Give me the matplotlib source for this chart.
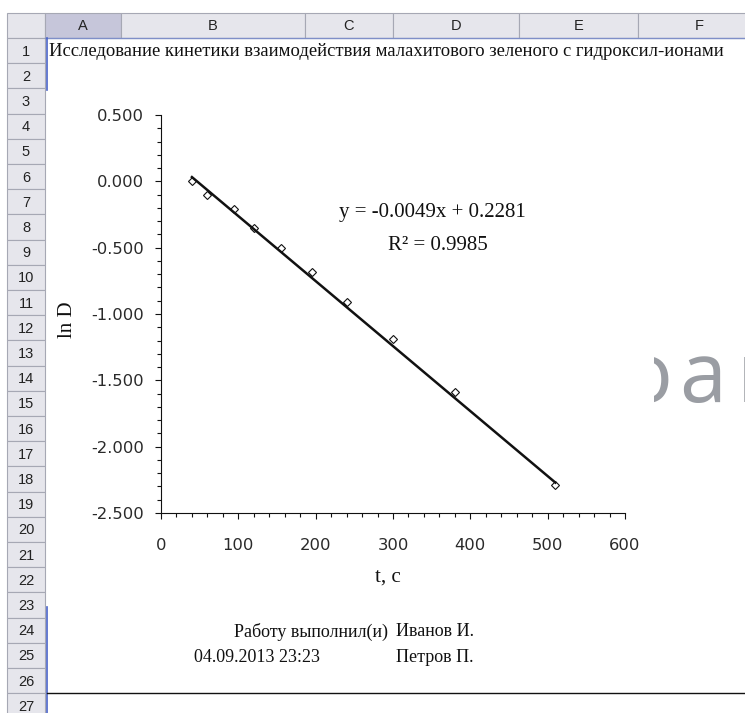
import matplotlib
matplotlib.use("Agg")
import matplotlib.pyplot as plt
from matplotlib.patches import Rectangle
from matplotlib.transforms import Bbox, TransformedBbox
from matplotlib.ticker import MultipleLocator, FormatStrFormatter

# ---- data ----
title = "Исследование кинетики взаимодействия малахитового зеленого с гидроксил-ионами"
t_sec = [40, 60, 95, 120, 155, 195, 240, 300, 380, 510]
ln_d = [0.00, -0.10, -0.21, -0.35, -0.50, -0.68, -0.91, -1.19, -1.59, -2.29]
slope, intercept, r2 = -0.0049, 0.2281, 0.9985
x_label = "t, c"
y_label = "ln D"
signed_by = "Работу выполнил(и)"
authors = ["Иванов И.", "Петров П."]
stamp = "04.09.2013 23:23"
col_names = ["A", "B", "C", "D", "E", "F"]
row_names = [str(i) for i in range(1, 28)]
watermark = ["о", "а", "н"]

# ---- sheet geometry (pixels) ----
W, H = 745, 713
col_edges = [45, 121, 305, 393, 519, 638, 760]
hdr_top, row_top, row_h = 13, 38.0, 25.2
rh_left = 7

SERIF = ["Liberation Serif", "DejaVu Serif"]
SANS = ["Liberation Sans", "DejaVu Sans"]

fig = plt.figure(figsize=(W / 100, H / 100), dpi=100)
fig.patch.set_facecolor("white")

bg = fig.add_axes([0, 0, 1, 1])
bg.set_xlim(0, W)
bg.set_ylim(H, 0)
bg.axis("off")

hdr_fill, hdr_sel, hdr_line = "#E6E6EC", "#C6C6DA", "#A6A8B4"

# column header strip
bg.add_patch(Rectangle((rh_left, hdr_top), col_edges[0] - rh_left, row_top - hdr_top,
                       facecolor=hdr_fill, edgecolor=hdr_line, lw=0.8))
for i, name in enumerate(col_names):
    x0, x1 = col_edges[i], col_edges[i + 1]
    fc = hdr_sel if i == 0 else hdr_fill
    bg.add_patch(Rectangle((x0, hdr_top), x1 - x0, row_top - hdr_top,
                           facecolor=fc, edgecolor=hdr_line, lw=0.8))
    bg.text((x0 + x1) / 2, (hdr_top + row_top) / 2 + 1, name, ha="center", va="center",
            family=SANS, fontsize=10.5, color="#222222")
bg.plot([col_edges[0], W], [row_top, row_top], color="#7F8FC8", lw=1.0)

# row header column
for k, name in enumerate(row_names):
    y0 = row_top + k * row_h
    bg.add_patch(Rectangle((rh_left, y0), col_edges[0] - rh_left, row_h,
                           facecolor=hdr_fill, edgecolor=hdr_line, lw=0.8))
    bg.text((rh_left + col_edges[0]) / 2, y0 + row_h / 2 + 1, name, ha="center",
            va="center", family=SANS, fontsize=10.5, color="#222222")

# sheet border marks
bg.plot([46.5, 46.5], [row_top, 90], color="#4A63C8", lw=1.2)
bg.plot([46.5, 46.5], [607, H], color="#4A63C8", lw=1.2)
bg.plot([47, W], [693, 693], color="#111111", lw=1.0)

# title in row 1, stretched to the cell text width
tt = bg.text(49, row_top + row_h / 2 + 1, title, ha="left", va="center",
             family=SERIF, fontsize=13, color="#111111")
fig.canvas.draw()
ext = tt.get_window_extent()
tt.set_fontsize(13 * 669 / ext.width)

# signature block
bg.text(388, 632, signed_by, ha="right", va="center", family=SERIF, fontsize=13, color="#111111")
bg.text(396, 632, authors[0], ha="left", va="center", family=SERIF, fontsize=13, color="#111111")
bg.text(194, 657, stamp, ha="left", va="center", family=SERIF, fontsize=13, color="#111111")
bg.text(396, 657, authors[1], ha="left", va="center", family=SERIF, fontsize=13, color="#111111")

# ---- chart ----
x0p, x1p, y0p, y1p = 161, 625, 115, 513
ax = fig.add_axes([x0p / W, 1 - y1p / H, (x1p - x0p) / W, (y1p - y0p) / H])
ax.patch.set_alpha(0)
ax.set_xlim(0, 600)
ax.set_ylim(-2.5, 0.5)
for s in ("top", "right"):
    ax.spines[s].set_visible(False)
for s in ("left", "bottom"):
    ax.spines[s].set_linewidth(0.8)
    ax.spines[s].set_color("#111111")

ax.xaxis.set_major_locator(MultipleLocator(100))
ax.xaxis.set_minor_locator(MultipleLocator(20))
ax.yaxis.set_major_locator(MultipleLocator(0.5))
ax.yaxis.set_minor_locator(MultipleLocator(0.1))
ax.yaxis.set_major_formatter(FormatStrFormatter("%.3f"))
ax.xaxis.set_major_formatter(FormatStrFormatter("%d"))
ax.tick_params(axis="x", which="major", length=4.2, width=0.8, pad=13.5,
               labelsize=11.8, labelcolor="#2a2a2a", color="#111111")
ax.tick_params(axis="x", which="minor", length=3.0, width=0.8, color="#111111")
ax.tick_params(axis="y", which="major", length=4.2, width=0.8, pad=8,
               labelsize=11.8, labelcolor="#2a2a2a", color="#111111")
ax.tick_params(axis="y", which="minor", length=3.2, width=0.8, color="#111111")
for lab in ax.get_xticklabels() + ax.get_yticklabels():
    lab.set_family(["DejaVu Sans"])

ax.plot(t_sec, ln_d, linestyle="none", marker="D", markersize=3.9,
        markerfacecolor="white", markeredgecolor="#111111", markeredgewidth=0.8,
        zorder=3, clip_on=False)
tx = [min(t_sec), max(t_sec)]
ax.plot(tx, [slope * v + intercept for v in tx], color="#111111", lw=1.8,
        zorder=4, clip_on=False)

eq = f"y = {slope:.4f}x + {intercept:.4f}"
bg.text(432, 213, eq, ha="center", va="center", family=SERIF, fontsize=15, color="#111111")
bg.text(438, 245, f"R² = {r2:.4f}", ha="center", va="center", family=SERIF,
        fontsize=15, color="#111111")

bg.text(388, 577, x_label, ha="center", va="center", family=SERIF, fontsize=15, color="#111111")
bg.text(68, 320, y_label, ha="center", va="center", rotation=90, family=SERIF,
        fontsize=15, color="#111111")

# ---- overlay lettering ----
top = fig.add_axes([0, 0, 1, 1], zorder=10)
top.set_xlim(0, W)
top.set_ylim(H, 0)
top.axis("off")
fig.canvas.draw()
clip_box = TransformedBbox(Bbox([[654, 0], [W, H]]), top.transData)
wm_kw = dict(va="baseline", family=["Open Sans", "DejaVu Sans"], fontsize=61, color="#9A9DA3")
w0 = top.text(672, 402, watermark[0], ha="right", **wm_kw)
w0.set_clip_box(clip_box)
w0.set_clip_on(True)
top.text(679, 402, watermark[1], ha="left", **wm_kw)
top.text(737, 402, watermark[2], ha="left", **wm_kw)

fig.savefig("out.png", dpi=100, facecolor="white")
